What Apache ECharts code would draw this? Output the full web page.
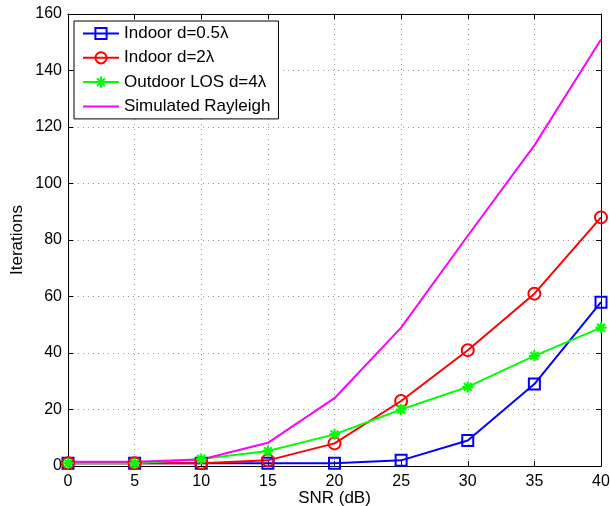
<!DOCTYPE html>
<html><head><meta charset="utf-8">
<script src="https://cdn.jsdelivr.net/npm/echarts@6/dist/echarts.min.js"></script>
<style>html,body{margin:0;padding:0;background:#fff}#c{width:610px;height:506px}</style>
</head><body><div id="c"></div>
<script>
const snr = [0, 5, 10, 15, 20, 25, 30, 35, 40];
const indoor05 = [1, 1, 1, 1, 1, 2, 9, 29, 58];
const indoor2 = [1, 1, 1, 2, 8, 23, 41, 61, 88];
const outdoor4 = [1, 1, 2.5, 5.3, 11.2, 20, 28, 39, 49];
const rayleigh = [1.5, 1.5, 2.3, 8.2, 24, 49, 81.5, 113.5, 151];
const yTicks = [0, 20, 40, 60, 80, 100, 120, 140, 160];
const names = ['Indoor d=0.5\u03bb', 'Indoor d=2\u03bb', 'Outdoor LOS d=4\u03bb', 'Simulated Rayleigh'];

const FONT = 'Liberation Sans, Arial, Helvetica, sans-serif';
const pairs = ys => snr.map((x, i) => [x, ys[i]]);
const star = 'path://M5 0 L5 10 M0 5 L10 5 M1.5 1.5 L8.5 8.5 M1.5 8.5 L8.5 1.5';

const chart = echarts.init(document.getElementById('c'));
const axisCommon = {
  type: 'value',
  axisLine: { show: true, onZero: false, lineStyle: { color: '#000', width: 1 } },
  axisTick: { show: true, inside: true, length: 5, lineStyle: { color: '#000' } },
};
chart.setOption({
  animation: false,
  grid: { left: 68, right: 9, top: 14, bottom: 40, containLabel: false, outerBoundsMode: 'none' },
  legend: {
    orient: 'vertical', left: 74, top: 21,
    backgroundColor: '#fff', borderColor: '#000', borderWidth: 1,
    padding: [4, 8, 4, 8], itemGap: 7.3, itemWidth: 36, itemHeight: 14,
    textStyle: { fontFamily: FONT, fontSize: 17, lineHeight: 16, color: '#000' },
    data: [
      { name: names[0] }, { name: names[1] }, { name: names[2] },
      { name: names[3], itemStyle: { opacity: 0 } }
    ]
  },
  xAxis: [
    Object.assign({}, axisCommon, {
      min: 0, max: 40, interval: 5, position: 'bottom',
      name: 'SNR (dB)', nameLocation: 'middle', nameGap: 24, nameMoveOverlap: false,
      nameTextStyle: { fontFamily: FONT, fontSize: 17, color: '#000' },
      axisLabel: { fontFamily: FONT, fontSize: 16, color: '#000', margin: 8 },
      splitLine: { show: true, lineStyle: { color: '#999', type: [1, 4], width: 1 } }
    }),
    Object.assign({}, axisCommon, {
      min: 0, max: 40, interval: 5, position: 'top',
      axisLabel: { show: false }, splitLine: { show: false }
    })
  ],
  yAxis: [
    Object.assign({}, axisCommon, {
      min: 0, max: 160, interval: 20, position: 'left',
      name: 'Iterations', nameLocation: 'middle', nameGap: 42, nameRotate: 90, nameMoveOverlap: false,
      nameTextStyle: { fontFamily: FONT, fontSize: 17, color: '#000' },
      axisLabel: { fontFamily: FONT, fontSize: 16, color: '#000', margin: 6,
        formatter: v => yTicks.includes(v) ? String(v) : '' },
      splitLine: { show: true, lineStyle: { color: '#999', type: [1, 4], width: 1 } }
    }),
    Object.assign({}, axisCommon, {
      min: 0, max: 160, interval: 20, position: 'right',
      axisLabel: { show: false }, splitLine: { show: false }
    })
  ],
  series: [
    { name: names[0], type: 'line', data: pairs(indoor05), color: '#0000ff',
      symbol: 'rect', symbolSize: 11, showAllSymbol: true,
      lineStyle: { color: '#0000ff', width: 2 },
      itemStyle: { color: 'rgba(255,255,255,0)', borderColor: '#0000ff', borderWidth: 2 } },
    { name: names[1], type: 'line', data: pairs(indoor2), color: '#ff0000',
      symbol: 'circle', symbolSize: 12,
      lineStyle: { color: '#ff0000', width: 2 },
      itemStyle: { color: 'rgba(255,255,255,0)', borderColor: '#ff0000', borderWidth: 2 } },
    { name: names[2], type: 'line', data: pairs(outdoor4), color: '#00ff00',
      symbol: star, symbolSize: 11,
      lineStyle: { color: '#00ff00', width: 2 },
      itemStyle: { color: '#00ff00', borderColor: '#00ff00', borderWidth: 2.2 } },
    { name: names[3], type: 'line', data: pairs(rayleigh), color: '#ff00ff',
      symbol: 'none', showSymbol: false,
      lineStyle: { color: '#ff00ff', width: 2 } }
  ]
});
</script></body></html>
